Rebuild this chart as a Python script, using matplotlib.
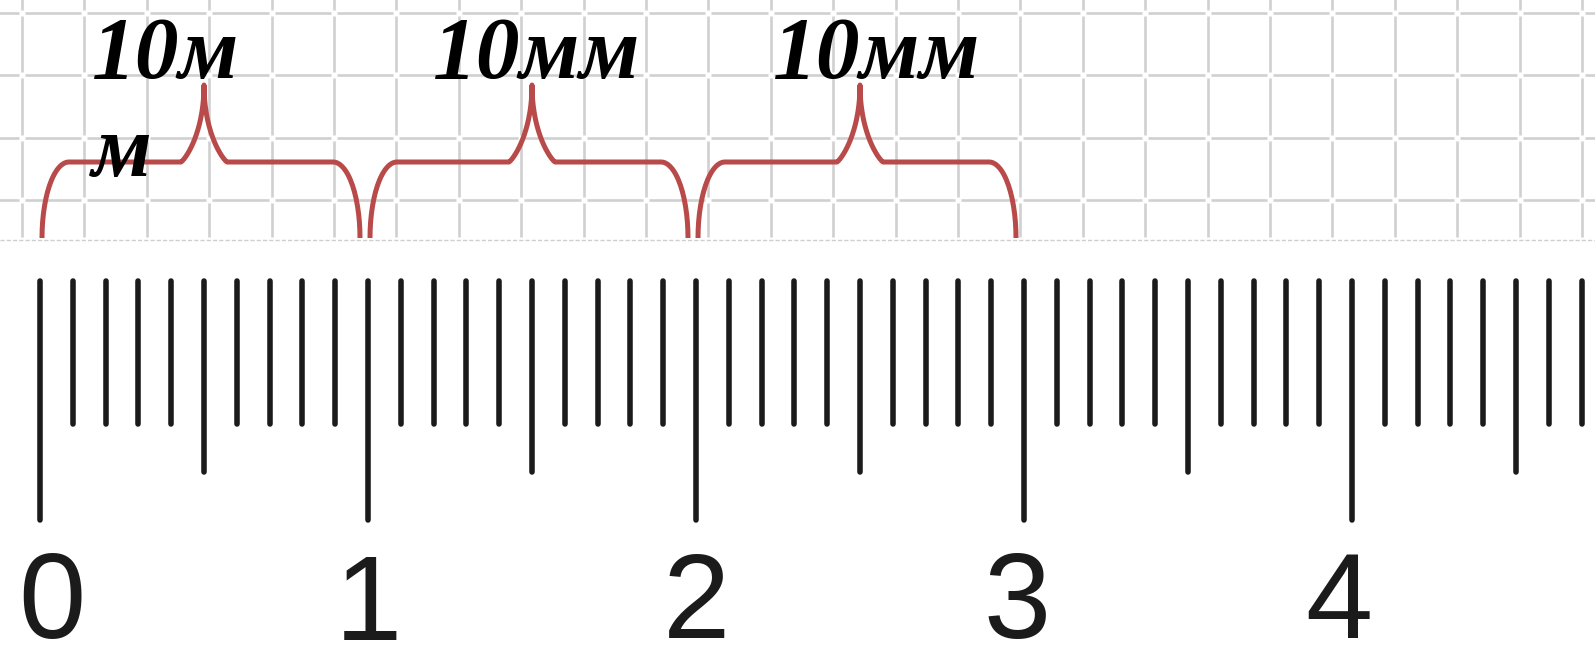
import numpy as np
import matplotlib
matplotlib.use("Agg")
import matplotlib.pyplot as plt
from matplotlib.collections import LineCollection

plt.rcParams["mathtext.fontset"] = "custom"
plt.rcParams["mathtext.rm"] = "Liberation Sans"

# ---------------- data ----------------
mm_ticks = list(range(0, 48))            # millimetre marks visible on the ruler
cm_labels = ["0", "1", "2", "3", "4"]    # centimetre numbers
cm_positions = [0, 10, 20, 30, 40]       # mm position of each number
brace_starts = [0, 10, 20]               # braced intervals (mm)
brace_ends = [10, 20, 30]
brace_labels = ["10м", "10мм", "10мм"]
wrap_label = "м"                          # wrapped tail of the first label

# ---------------- layout constants ----------------
W, H = 1595, 664
PX0 = 40.0          # pixel x of the 0 mark
PXMM = 32.8         # pixels per mm
RED = "#b84a4a"
INK = "#1b1b1b"
GRID = "#d0d0d0"

fig = plt.figure(figsize=(W / 100, H / 100), dpi=100)
fig.patch.set_facecolor("white")

# background graph-paper grid (pixel coordinates)
bg = fig.add_axes([0, 0, 1, 1])
bg.set_xlim(0, W)
bg.set_ylim(H, 0)
bg.axis("off")
gx = 22 + 62.4 * np.arange(0, 27)
gy = np.array([-49.4, 13, 75.4, 137.8, 200.2])
ybot = 240
gap = 3
segs = []
for y in gy[1:]:
    for a, b in zip(np.r_[-40, gx], np.r_[gx, W + 40]):
        segs.append([(a + gap, y), (b - gap, y)])
ys = np.r_[gy, ybot]
for x in gx:
    for a, b in zip(ys[:-1], ys[1:]):
        segs.append([(x, max(a + gap, -5)), (x, b - gap)])
bg.add_collection(LineCollection(segs, colors=GRID, linewidths=1.9, capstyle="butt"))
bg.plot([0, W], [ybot, ybot], color="#cfcfcf", lw=1.0, ls=(0, (3, 1.5)))

# main ruler axes: x in mm, y in pixels
ax = fig.add_axes([0, 0, 1, 1])
ax.patch.set_alpha(0)
ax.set_xlim(-PX0 / PXMM, (W - PX0) / PXMM)
ax.set_ylim(H, 0)
ax.axis("off")

top = 281
for m in mm_ticks:
    if m % 10 == 0:
        end = 520
    elif m % 5 == 0:
        end = 472
    else:
        end = 424
    ax.plot([m, m], [top, end], color=INK, lw=4.0, solid_capstyle="round")

# centimetre numbers
num_dx = [10, -2, -2, -9, -14]          # pixel nudges seen in the picture
num_base = [638, 640, 638, 638, 638]
for lab, pos, dx, yb in zip(cm_labels, cm_positions, num_dx, num_base):
    ax.text(pos + dx / PXMM, yb, r"$\mathrm{%s}$" % lab, ha="center", va="baseline",
            fontsize=87, color=INK)

# curly braces
def brace(a, b):
    L = a + 2 / PXMM
    R = b - 8 / PXMM
    C = (a + b) / 2
    rx, ry = 27 / PXMM, 76
    yb, yh, yp = 238, 162, 85
    hw = 23 / PXMM
    th = np.linspace(0, np.pi / 2, 30)
    x1 = L + rx * (1 - np.cos(th)); y1 = yb - ry * np.sin(th)
    t = np.linspace(1, 0, 40)
    x2 = C - hw * t; y2 = yh - (yh - yp) * (1 - np.sqrt(t)) ** 1.2
    t = np.linspace(0, 1, 40)
    x3 = C + hw * t; y3 = yh - (yh - yp) * (1 - np.sqrt(t)) ** 1.2
    th = np.linspace(np.pi / 2, 0, 30)
    x4 = R - rx * (1 - np.cos(th)); y4 = yb - ry * np.sin(th)
    ax.plot(np.r_[x1, x2, x3, x4], np.r_[y1, y2, y3, y4], color=RED, lw=3.6,
            solid_joinstyle="round", solid_capstyle="butt")

for a, b in zip(brace_starts, brace_ends):
    brace(a, b)

# brace labels
lab_font = dict(fontsize=63, family="Liberation Serif", weight="bold",
                style="italic", color="black")
lab_x = [(92 - PX0) / PXMM, (537 - PX0) / PXMM, (877 - PX0) / PXMM]
lab_ha = ["left", "center", "center"]
for lab, x, ha in zip(brace_labels, lab_x, lab_ha):
    ax.text(x, 78, lab, ha=ha, va="baseline", **lab_font)
ax.text((92 - PX0) / PXMM, 176, wrap_label, ha="left", va="baseline", **lab_font)

fig.savefig("out.png", dpi=100)
